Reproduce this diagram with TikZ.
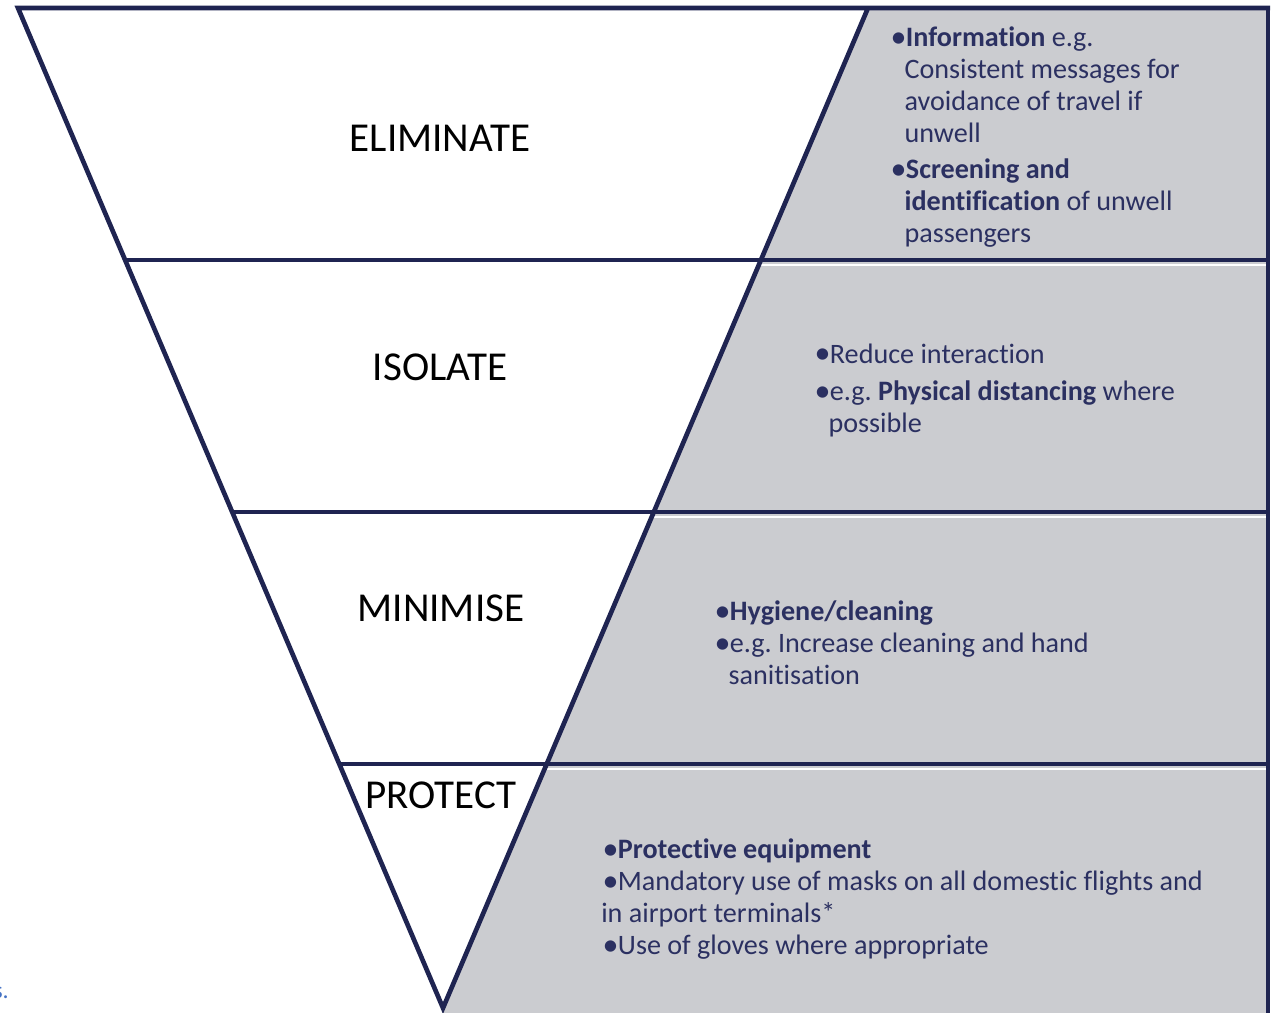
\documentclass[tikz,border=0pt]{standalone}
\usepackage{fontspec}
\setmainfont{Carlito}[Ligatures=NoCommon]
\usepackage{tikz}
\usetikzlibrary{positioning}
\definecolor{navy}{HTML}{1F2451}
\definecolor{panel}{HTML}{CBCCD0}
\definecolor{inktext}{HTML}{2B3061}
\definecolor{linkblue}{HTML}{4472C4}
\newcommand{\bul}{\makebox[9.5pt][l]{\hspace*{-2pt}\raisebox{-0.5pt}{\fontsize{24}{24}\selectfont\textbullet}}}
\newcommand{\hang}{\hspace*{8.5pt}}
\frenchspacing

\begin{document}
\begin{tikzpicture}[
      x=0.75pt, y=-0.75pt,
      edge/.style={navy, line width=3.5pt, line join=miter},
      split/.style={white, line width=0.8pt},
      level/.style={font=\fontsize{30.8}{36}\selectfont, text=black},
      bullets/.style={font=\fontsize{21.1}{24}\selectfont, text=inktext, align=left, anchor=base west, inner sep=0pt}
    ]
    \useasboundingbox (0,0) rectangle (1281,1013);
    \coordinate (tl) at (18,8);
    \coordinate (tm) at (868,8);
    \coordinate (tr) at (1268,8);
    \coordinate (br) at (1268,1013);
    \coordinate (apex) at (443,1008);
    \coordinate (bot) at (442,1013);

    \fill[panel] (tm) -- (tr) -- (br) -- (bot) -- (apex) -- cycle;

    \coordinate (l1) at (125,260);
    \coordinate (l2) at (232,512);
    \coordinate (l3) at (339,764);
    \coordinate (r1) at (1268,260);
    \coordinate (r2) at (1268,512);
    \coordinate (r3) at (1268,764);

    \draw [split] (759,265) -- (1266,265);
    \draw [split] (652,517) -- (1266,517);
    \draw [split] (545,769) -- (1266,769);

    \draw [edge] (l1) -- (r1);
    \draw [edge] (l2) -- (r2);
    \draw [edge] (l3) -- (r3);
    \draw [edge] (tm) -- (apex) -- (tl) -- (1270,8);
    \draw [edge] (tr) -- (br);

    \node[level] (elim) at (440,138) {ELIMINATE};
    \node[level] (iso) at (440,367) {ISOLATE};
    \node[level] (mini) at (441,608) {MINIMISE};
    \node[level] (prot) at (441,795) {PROTECT};

    \node[bullets] (info) at (893,242.5) {\bul\textbf{Information} e.g.\\
      \hang Consistent messages for\\
      \hang avoidance of travel if\\
      \hang unwell\\[3pt]
      \bul\textbf{Screening and}\\
      \hang\textbf{identification} of unwell\\
      \hang passengers};
    \node[bullets] (reduce) at (817,432.5) {\bul Reduce interaction\\[4pt]
      \bul e.g. \textbf{Physical distancing} where\\
      \hang possible};
    \node[bullets] (hygiene) at (717,684.5) {\bul\textbf{Hygiene/cleaning}\\
      \bul e.g. Increase cleaning and hand\\
      \hang sanitisation};
    \node[bullets] (ppe) at (605,954.5) {\bul\textbf{Protective equipment}\\
      \bul Mandatory use of masks on all domestic flights and\\
      \hspace*{-3pt}in airport terminals*\\
      \bul Use of gloves where appropriate};

    \node[font=\fontsize{18}{20}\selectfont, text=linkblue, anchor=base east, inner sep=0pt] (note) at (9,998) {s.};
\end{tikzpicture}
\end{document}
